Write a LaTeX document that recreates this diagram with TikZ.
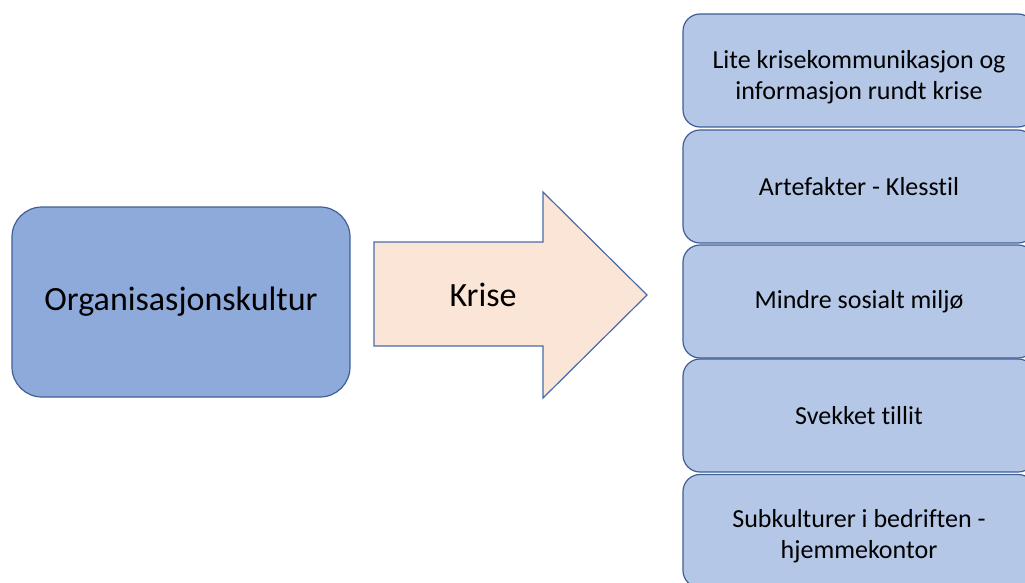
\documentclass[tikz,border=0pt]{standalone}
\usepackage{fontspec}
\setmainfont{Carlito}[Ligatures=NoCommon]
\begin{document}
\begin{tikzpicture}[x=1pt,y=-1pt,
  leftbox/.style={draw=leftline,fill=leftfill,line width=1.2pt,rounded corners=30pt,
    minimum width=338pt,minimum height=190pt,inner sep=0pt,font=\fontsize{34}{40}\selectfont},
  rbox/.style={draw=rline,fill=rfill,line width=1.2pt,rounded corners=17pt,
    minimum width=352pt,minimum height=113pt,inner sep=0pt,align=center,
    font=\fontsize{26}{31}\selectfont},
  arrowshape/.style={draw=arrline,fill=arrfill,line width=1.2pt,line join=miter}]
\definecolor{leftfill}{HTML}{8EAADB}
\definecolor{leftline}{HTML}{3F5F96}
\definecolor{rfill}{HTML}{B4C7E7}
\definecolor{rline}{HTML}{3F5F96}
\definecolor{arrfill}{HTML}{FBE5D6}
\definecolor{arrline}{HTML}{4A6BA8}
\useasboundingbox (0,0) rectangle (1025,583);
\clip (0,0) rectangle (1025,583);
\node[leftbox] (org) at (181,302) {Organisasjonskultur};
\coordinate (a1) at (374,242);
\coordinate (a2) at (543,242);
\coordinate (a3) at (543,192);
\coordinate (tip) at (647,295);
\coordinate (a5) at (543,398);
\coordinate (a6) at (543,346);
\coordinate (a7) at (374,346);
\draw[arrowshape] (a1) -- (a2) -- (a3) -- (tip) -- (a5) -- (a6) -- (a7) -- cycle;
\node[font=\fontsize{34}{40}\selectfont] (krise) at (483,295) {Krise};
\node[rbox] (r1) at (859,70.5) {\rule{0pt}{32pt}Lite krisekommunikasjon og\\informasjon rundt krise};
\node[rbox] (r2) at (859,186.5) {Artefakter - Klesstil};
\node[rbox] (r3) at (859,301.5) {Mindre sosialt miljø};
\node[rbox] (r4) at (859,415.5) {Svekket tillit};
\node[rbox] (r5) at (859,531) {\rule{0pt}{28pt}Subkulturer i bedriften -\\hjemmekontor};
\end{tikzpicture}
\end{document}
